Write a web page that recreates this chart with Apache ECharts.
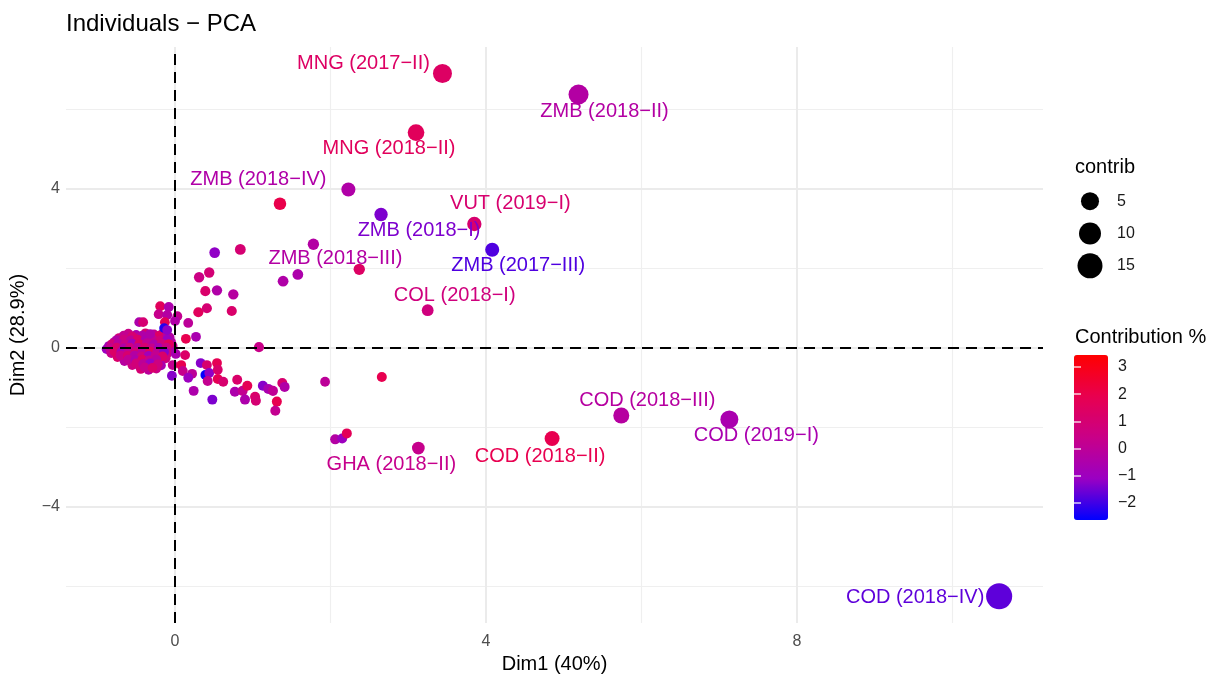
<!DOCTYPE html>
<html>
<head>
<meta charset="utf-8">
<script src="https://cdn.jsdelivr.net/npm/echarts@6/dist/echarts.min.js"></script>
<style>html,body{margin:0;padding:0;background:#fff}#c{width:1220px;height:679px}</style>
</head>
<body>
<div id="c"></div>
<script>
// ---- Data ----
const labelNames = ['MNG (2017\u2212II)', 'ZMB (2018\u2212II)', 'MNG (2018\u2212II)', 'ZMB (2018\u2212IV)', 'VUT (2019\u2212I)', 'ZMB (2018\u2212I)', 'ZMB (2017\u2212III)', 'ZMB (2018\u2212III)', 'COL (2018\u2212I)', 'COD (2018\u2212III)', 'COD (2019\u2212I)', 'COD (2018\u2212II)', 'GHA (2018\u2212II)', 'COD (2018\u2212IV)'];
const labelDim1 = [3.44, 5.19, 3.10, 2.23, 3.85, 2.65, 4.08, 1.78, 3.25, 5.74, 7.13, 4.85, 3.13, 10.60];
const labelDim2 = [6.91, 6.38, 5.42, 3.99, 3.12, 3.36, 2.47, 2.61, 0.95, -1.70, -1.80, -2.28, -2.52, -6.25];
const labelContrib = [6.1, 7.3, 3.7, 1.7, 1.9, 1.3, 1.7, 0.45, 0.6, 3.1, 5.0, 2.3, 1.0, 17];
const labelColour = [1.4, -0.3, 1.6, -0.4, 1.1, -1.4, -1.85, -0.3, 0.7, -0.2, -0.6, 1.9, 0.3, -1.7];

// other individuals: [Dim1, Dim2, contrib, colour value]
const otherPoints = [
[-0.60,0.36,0.08,0.4],[-0.50,0.33,0.08,-0.6],[-0.38,0.37,0.08,1.1],[-0.27,0.34,0.08,0.2],[-0.16,0.36,0.08,-0.3],
[-0.72,0.25,0.08,0.9],[-0.63,0.27,0.08,-0.2],[-0.54,0.24,0.08,1.5],[-0.45,0.28,0.08,0.3],[-0.35,0.25,0.08,-0.8],[-0.25,0.27,0.08,0.6],[-0.16,0.24,0.08,1.2],[-0.07,0.27,0.08,-0.4],
[-0.78,0.15,0.08,0.1],[-0.70,0.17,0.08,1.3],[-0.61,0.14,0.08,-0.5],[-0.52,0.18,0.08,0.7],[-0.43,0.15,0.08,0.0],[-0.33,0.17,0.08,1.8],[-0.24,0.14,0.08,-1.0],[-0.15,0.16,0.08,0.4],[-0.05,0.15,0.08,-0.3],
[-0.85,0.05,0.08,-0.7],[-0.77,0.07,0.08,0.5],[-0.68,0.04,0.08,1.6],[-0.59,0.08,0.08,-0.2],[-0.50,0.05,0.08,0.9],[-0.41,0.07,0.08,-1.2],[-0.31,0.04,0.08,0.3],[-0.22,0.06,0.08,1.0],[-0.12,0.08,0.08,-0.6],[-0.03,0.05,0.08,0.2],
[-0.88,-0.03,0.08,-1.0],[-0.80,-0.05,0.08,0.6],[-0.71,-0.02,0.08,0.0],[-0.62,-0.06,0.08,1.4],[-0.53,-0.03,0.08,-0.4],[-0.44,-0.05,0.08,0.8],[-0.35,-0.02,0.08,-1.6],[-0.26,-0.05,0.08,0.5],[-0.17,-0.03,0.08,1.1],[-0.07,-0.06,0.08,-0.2],
[-0.82,-0.13,0.08,0.3],[-0.73,-0.15,0.08,-0.5],[-0.64,-0.12,0.08,1.0],[-0.55,-0.16,0.08,0.1],[-0.46,-0.13,0.08,1.7],[-0.37,-0.15,0.08,-0.3],[-0.28,-0.12,0.08,0.6],[-0.19,-0.16,0.08,-0.9],[-0.10,-0.14,0.08,0.4],
[-0.74,-0.23,0.08,1.2],[-0.66,-0.25,0.08,0.2],[-0.57,-0.22,0.08,-0.7],[-0.48,-0.26,0.08,0.9],[-0.39,-0.23,0.08,0.0],[-0.30,-0.25,0.08,1.5],[-0.21,-0.22,0.08,-0.4],[-0.12,-0.26,0.08,0.7],
[-0.65,-0.33,0.08,-0.2],[-0.56,-0.35,0.08,1.3],[-0.47,-0.32,0.08,0.4],[-0.38,-0.36,0.08,-0.8],[-0.29,-0.33,0.08,0.9],[-0.20,-0.35,0.08,0.1],
[-0.55,-0.43,0.08,0.6],[-0.46,-0.45,0.08,-0.3],[-0.37,-0.42,0.08,1.9],[-0.27,-0.46,0.08,0.2],[-0.18,-0.44,0.08,-0.6],
[-0.44,-0.53,0.08,1.0],[-0.34,-0.55,0.08,-0.1],[-0.24,-0.52,0.08,0.5],
[-0.66,0.31,0.08,0.2],[-0.55,0.29,0.08,1.0],[-0.42,0.31,0.08,-0.4],[-0.31,0.29,0.08,0.5],[-0.20,0.31,0.08,1.4],[-0.10,0.30,0.08,-0.1],
[-0.75,0.20,0.08,-0.3],[-0.66,0.21,0.08,0.6],[-0.57,0.19,0.08,0.0],[-0.48,0.21,0.08,1.2],[-0.38,0.20,0.08,-0.6],[-0.29,0.22,0.08,0.3],[-0.19,0.19,0.08,0.9],[-0.10,0.21,0.08,-1.1],
[-0.81,0.10,0.08,0.8],[-0.73,0.11,0.08,-0.2],[-0.64,0.09,0.08,0.4],[-0.55,0.11,0.08,-0.9],[-0.46,0.10,0.08,1.3],[-0.36,0.12,0.08,0.1],[-0.27,0.09,0.08,-0.5],[-0.17,0.11,0.08,0.7],[-0.08,0.10,0.08,1.6],
[-0.84,0.00,0.08,0.2],[-0.75,0.01,0.08,1.1],[-0.66,-0.01,0.08,-0.4],[-0.58,0.01,0.08,0.6],[-0.48,0.00,0.08,-0.1],[-0.39,0.01,0.08,1.0],[-0.30,-0.01,0.08,0.3],[-0.21,0.00,0.08,-0.7],[-0.11,0.01,0.08,0.5],
[-0.78,-0.09,0.08,1.3],[-0.69,-0.10,0.08,-0.6],[-0.60,-0.09,0.08,0.2],[-0.51,-0.11,0.08,0.9],[-0.42,-0.10,0.08,-0.2],[-0.32,-0.09,0.08,1.5],[-0.23,-0.11,0.08,0.0],[-0.14,-0.10,0.08,-1.3],
[-0.70,-0.19,0.08,0.4],[-0.61,-0.20,0.08,1.1],[-0.52,-0.19,0.08,-0.3],[-0.43,-0.21,0.08,0.6],[-0.34,-0.20,0.08,-0.9],[-0.25,-0.19,0.08,0.2],[-0.16,-0.21,0.08,1.2],
[-0.60,-0.29,0.08,0.1],[-0.51,-0.30,0.08,-0.5],[-0.42,-0.29,0.08,1.4],[-0.33,-0.31,0.08,0.3],[-0.24,-0.29,0.08,-0.2],
[-0.50,-0.39,0.08,0.8],[-0.41,-0.40,0.08,0.0],[-0.32,-0.39,0.08,-1.1],[-0.22,-0.41,0.08,0.6],
[-0.39,-0.49,0.08,0.3],[-0.29,-0.50,0.08,1.2],
[0.51,2.40,0.27,-1.2],[0.84,2.48,0.3,1.0],[0.44,1.90,0.2,0.9],[0.31,1.78,0.2,0.5],[0.39,1.43,0.15,1.2],[0.54,1.45,0.2,-0.4],[0.75,1.35,0.2,-0.2],
[0.30,0.90,0.15,1.6],[0.41,1.00,0.15,1.0],[0.73,0.93,0.15,1.2],[-0.19,1.05,0.12,1.6],[-0.08,1.03,0.12,-0.5],[-0.21,0.85,0.1,0.3],[-0.10,0.83,0.1,-0.3],
[0.03,0.80,0.1,0.2],[-0.13,0.65,0.1,1.8],[0.00,0.68,0.1,-0.4],[0.17,0.63,0.1,0.0],[-0.14,0.50,0.1,-2.3],[-0.10,0.45,0.1,-1.2],[-0.46,0.65,0.1,-0.5],
[-0.41,0.65,0.1,1.0],[-0.32,0.35,0.1,-0.4],[0.27,0.28,0.1,-0.6],[0.14,0.23,0.1,1.9],[1.08,0.02,0.15,0.4],[1.39,1.68,0.3,-0.4],[1.58,1.85,0.3,-0.5],
[2.37,1.98,0.45,1.4],[1.35,3.63,0.9,2.0],
[0.01,-0.15,0.1,-0.6],[0.13,-0.18,0.1,1.3],[-0.03,-0.43,0.1,0.2],[0.08,-0.43,0.1,1.9],[0.33,-0.38,0.1,-1.3],[0.41,-0.43,0.1,1.1],[0.54,-0.38,0.1,1.8],
[0.39,-0.68,0.1,-2.6],[0.44,-0.63,0.1,-1.2],[0.55,-0.55,0.1,1.2],[0.10,-0.58,0.1,0.3],[0.22,-0.65,0.1,0.0],[0.17,-0.75,0.1,-1.0],[-0.04,-0.70,0.1,-1.3],
[0.42,-0.83,0.12,0.2],[0.55,-0.78,0.12,1.8],[0.62,-0.85,0.12,1.1],[0.24,-1.08,0.12,-0.5],[0.48,-1.30,0.12,-1.4],[0.80,-0.80,0.12,1.2],[0.77,-1.10,0.13,-0.5],
[0.87,-1.08,0.13,0.2],[0.93,-0.95,0.13,1.8],[0.90,-1.30,0.13,-0.5],[1.03,-1.23,0.13,1.2],[1.04,-1.33,0.13,1.0],[1.13,-0.95,0.13,-1.3],[1.20,-1.03,0.13,-0.6],
[1.26,-1.08,0.13,0.1],[1.38,-0.88,0.13,1.1],[1.41,-0.98,0.13,-0.4],[1.31,-1.35,0.13,1.9],[1.29,-1.58,0.13,0.2],[1.93,-0.85,0.1,0.0],[2.66,-0.73,0.13,1.9],
[2.06,-2.30,0.13,-0.3],[2.15,-2.28,0.13,-1.0],[2.21,-2.15,0.13,1.7]
];

// tick values / legend values
const xTicks = [0, 4, 8];
const yTicks = [-4, 0, 4];
const xMinorGrid = [2, 6, 10];
const yMinorGrid = [-6, -2, 2, 6];
const xMajorGrid = [0, 4, 8];
const yMajorGrid = [-4, 0, 4];
const sizeLegendValues = [5, 10, 15];
const colourTicks = [-2, -1, 0, 1, 2, 3];
const colourMin = -2.63, colourMax = 3.44;

// label placement (styling, kept apart from the data)
const labelOffsets = [[-79,-10],[26,17],[-27,16],[-90,-10],[36,-21],[38,16],[26,16],[22,14],[27,-15],[26,-15],[27,16],[-12,18],[-27,16],[-84,1]];

// ---- Chart ----
const FONT = 'Liberation Sans, Arial, Helvetica, sans-serif';
const sizeOf = c => 4.95 + 3.52 * (1 + 5 * Math.sqrt(c / 17));
const minus = v => String(v).replace('-', '\u2212');

const mainData = otherPoints.map(p => ({ value: p }));
labelNames.forEach((n, i) => {
  mainData.push({
    name: n,
    value: [labelDim1[i], labelDim2[i], labelContrib[i], labelColour[i]],
    label: { show: true, formatter: n, position: 'inside', offset: labelOffsets[i] }
  });
});

const gridLineData = [];
xMinorGrid.forEach(v => gridLineData.push({ xAxis: v, lineStyle: { color: '#EFEFEF', width: 1.2, type: 'solid' } }));
yMinorGrid.forEach(v => gridLineData.push({ yAxis: v, lineStyle: { color: '#EFEFEF', width: 1.2, type: 'solid' } }));
xMajorGrid.forEach(v => gridLineData.push({ xAxis: v, lineStyle: { color: '#EBEBEB', width: 2, type: 'solid' } }));
yMajorGrid.forEach(v => gridLineData.push({ yAxis: v, lineStyle: { color: '#EBEBEB', width: 2, type: 'solid' } }));

const chart = echarts.init(document.getElementById('c'), null, { renderer: 'canvas' });
chart.setOption({
  animation: false,
  backgroundColor: '#ffffff',
  textStyle: { fontFamily: FONT },
  title: [
    { text: 'Individuals \u2212 PCA', left: 66, top: 12, padding: 0, textStyle: { fontFamily: FONT, fontSize: 24, fontWeight: 'normal', color: '#000' } },
    { text: 'contrib', left: 1075, top: 157, padding: 0, textStyle: { fontFamily: FONT, fontSize: 20, fontWeight: 'normal', color: '#000' } },
    { text: 'Contribution %', left: 1075, top: 327, padding: 0, textStyle: { fontFamily: FONT, fontSize: 20, fontWeight: 'normal', color: '#000' } }
  ],
  grid: [
    { left: 66, right: 177, top: 47, bottom: 52 },
    { left: 1074, top: 355, width: 34, height: 165 },
    { left: 1080, top: 185, width: 20, height: 97 }
  ],
  xAxis: [
    { type: 'value', gridIndex: 0, min: -1.402, max: 11.164,
      axisLine: { show: false }, axisTick: { show: false }, splitLine: { show: false },
      axisLabel: { customValues: xTicks, formatter: minus, fontSize: 16, color: '#4D4D4D', margin: 10, fontFamily: FONT },
      name: 'Dim1 (40%)', nameLocation: 'middle', nameGap: 28,
      nameTextStyle: { fontSize: 20, color: '#000', fontFamily: FONT } },
    { type: 'value', gridIndex: 1, show: false, min: 0, max: 1 },
    { type: 'category', gridIndex: 2, show: false, data: ['k'] }
  ],
  yAxis: [
    { type: 'value', gridIndex: 0, min: -6.925, max: 7.575,
      axisLine: { show: false }, axisTick: { show: false }, splitLine: { show: false },
      axisLabel: { customValues: yTicks, formatter: minus, fontSize: 16, color: '#4D4D4D', margin: 6, fontFamily: FONT },
      name: 'Dim2 (28.9%)', nameLocation: 'middle', nameGap: 38, nameRotate: 90,
      nameTextStyle: { fontSize: 20, color: '#000', fontFamily: FONT } },
    { type: 'value', gridIndex: 1, position: 'right', min: colourMin, max: colourMax, z: 10,
      axisLine: { show: false }, splitLine: { show: false },
      axisTick: { show: true, inside: true, length: 7, customValues: colourTicks, lineStyle: { color: '#ffffff', width: 1.5, opacity: 0.8 } },
      axisLabel: { customValues: colourTicks, formatter: minus, fontSize: 16, color: '#1A1A1A', margin: 10, fontFamily: FONT } },
    { type: 'value', gridIndex: 1, position: 'left', min: colourMin, max: colourMax, z: 10,
      axisLine: { show: false }, splitLine: { show: false },
      axisTick: { show: true, inside: true, length: 7, customValues: colourTicks, lineStyle: { color: '#ffffff', width: 1.5, opacity: 0.8 } },
      axisLabel: { show: false } },
    { type: 'category', gridIndex: 2, position: 'right', inverse: true, data: sizeLegendValues.map(String),
      axisLine: { show: false }, axisTick: { show: false }, splitLine: { show: false },
      axisLabel: { fontSize: 16, color: '#1A1A1A', margin: 17, fontFamily: FONT } }
  ],
  visualMap: [{
    type: 'continuous', seriesIndex: 1, dimension: 3,
    min: colourMin, max: colourMax, calculable: false, hoverLink: false,
    left: 1074, top: 355, itemWidth: 34, itemHeight: 165, padding: 0,
    inRange: { color: ['#0000FF', '#9A00C3', '#C90088', '#E8004F', '#FF0000'] },
    textStyle: { color: 'transparent' }
  }],
  series: [
    { type: 'scatter', xAxisIndex: 0, yAxisIndex: 0, data: [[0, 0]], symbolSize: 0, silent: true, z: 1,
      markLine: { silent: true, z: 1, symbol: ['none', 'none'], label: { show: false }, animation: false,
        data: gridLineData } },
    { type: 'scatter', xAxisIndex: 0, yAxisIndex: 0, z: 3,
      data: mainData,
      symbol: 'circle',
      symbolSize: v => sizeOf(v[2]),
      itemStyle: { opacity: 1 },
      label: { show: false, color: 'inherit', fontSize: 20, fontFamily: FONT, textBorderWidth: 0, textBorderColor: 'transparent' },
      emphasis: { disabled: true } },
    { type: 'scatter', xAxisIndex: 2, yAxisIndex: 3, z: 3,
      data: sizeLegendValues.map(v => ['k', String(v)]),
      symbolSize: v => sizeOf(Number(v[1])),
      itemStyle: { color: '#000', opacity: 1 }, emphasis: { disabled: true } },
    { type: 'scatter', xAxisIndex: 0, yAxisIndex: 0, data: [[0, 0]], symbolSize: 0, silent: true, z: 4,
      markLine: { silent: true, z: 4, symbol: ['none', 'none'], label: { show: false }, animation: false,
        data: [
          { xAxis: 0, lineStyle: { color: '#000', width: 2, type: [11, 7] } },
          { yAxis: 0, lineStyle: { color: '#000', width: 2, type: [11, 7] } }
        ] } }
  ]
});
</script>
</body>
</html>
